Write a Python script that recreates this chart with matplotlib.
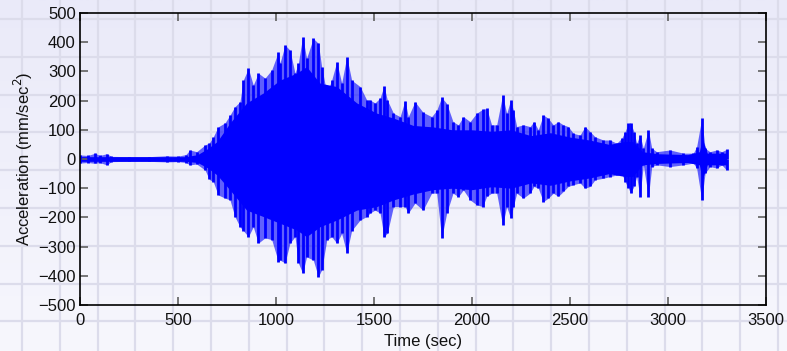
import numpy as np
import matplotlib
matplotlib.use("Agg")
import matplotlib.pyplot as plt
from matplotlib.colors import LinearSegmentedColormap

plt.rcParams['font.family'] = ['Liberation Sans', 'DejaVu Sans']

# ---- data ----
# peak excursions (spikes) of the acceleration trace
time_sec = [0, 40, 77, 100, 136, 160, 250, 350, 442, 500, 540, 561, 595, 638, 660,
            680, 705, 740, 765, 790, 816, 833, 859, 884, 910, 944, 978, 1012, 1020,
            1046, 1071, 1097, 1114, 1136, 1156, 1190, 1216, 1233, 1259, 1284, 1310,
            1335, 1361, 1386, 1429, 1463, 1480, 1505, 1531, 1551, 1568, 1599, 1633,
            1658, 1675, 1709, 1750, 1794, 1820, 1845, 1871, 1903, 1930, 1956, 1990,
            2024, 2054, 2075, 2100, 2126, 2156, 2177, 2197, 2211, 2228, 2262, 2296,
            2316, 2338, 2364, 2389, 2415, 2440, 2466, 2491, 2517, 2551, 2577, 2602,
            2628, 2670, 2704, 2738, 2764, 2781, 2798, 2809, 2826, 2840, 2857, 2874,
            2900, 2917, 2942, 3010, 3078, 3129, 3146, 3172, 3189, 3214, 3248, 3274,
            3299]
upper_env = [14, 12, 20, 12, 18, 9, 8, 8, 11, 10, 15, 31, 25, 48, 55,
             76, 110, 124, 150, 179, 196, 270, 310, 253, 294, 277, 305, 367, 328,
             390, 373, 294, 328, 419, 345, 413, 396, 316, 225, 270, 333,
             260, 350, 270, 248, 202, 202, 192, 209, 250, 202, 157, 145,
             200, 145, 196, 160, 145, 167, 211, 190, 128, 117, 145, 128,
             157, 170, 173, 117, 117, 219, 156, 202, 167, 111, 117, 111,
             128, 100, 151, 139, 117, 128, 117, 111, 88, 82, 111, 94,
             76, 65, 65, 54, 71, 94, 122, 124, 94, 54, 82, 37,
             99, 37, 25, 31, 20, 20, 42, 139, 37, 25, 31, 25,
             33]
lower_env = [-14, -12, -15, -12, -20, -9, -8, -8, -10, -9, -12, -20, -17, -38, -70,
             -78, -123, -134, -140, -197, -232, -245, -266, -232, -288, -270, -276, -352, -346,
             -356, -288, -266, -356, -391, -335, -346, -403, -380, -277, -266, -288,
             -255, -322, -245, -209, -197, -185, -175, -185, -266, -254, -163, -163,
             -163, -185, -151, -175, -117, -117, -271, -185, -117, -129, -106, -140,
             -157, -163, -128, -117, -117, -226, -163, -203, -163, -117, -134, -117,
             -94, -100, -146, -134, -117, -128, -111, -94, -88, -82, -100, -94,
             -71, -66, -60, -55, -49, -78, -100, -117, -94, -60, -129, -20,
             -129, -26, -20, -26, -20, -14, -31, -140, -49, -26, -31, -20,
             -38]

# solid body of the trace (where the oscillation fills in completely)
body_time = [0, 540, 600, 650, 700, 765, 850, 935, 1020, 1105, 1156, 1224, 1310,
             1412, 1514, 1600, 1700, 1800, 1900, 2000, 2100, 2200, 2300, 2400,
             2500, 2600, 2700, 2780, 2820, 2870, 2950, 3100, 3160, 3175, 3200, 3300]
body_upper = [8, 8, 15, 35, 60, 123, 192, 226, 270, 294, 316, 260, 248,
              192, 157, 140, 115, 110, 100, 100, 95, 100, 80, 90,
              75, 65, 50, 60, 60, 25, 18, 15, 25, 70, 20, 20]
body_lower = [-8, -8, -12, -30, -55, -106, -175, -197, -220, -243, -266, -232, -209,
              -175, -163, -140, -120, -105, -100, -105, -95, -100, -82, -90,
              -75, -65, -50, -60, -60, -20, -15, -12, -20, -70, -20, -20]

xticks = [0, 500, 1000, 1500, 2000, 2500, 3000, 3500]
yticks = [-500, -400, -300, -200, -100, 0, 100, 200, 300, 400, 500]

W, H = 787, 351
fig = plt.figure(figsize=(W / 100, H / 100), dpi=100)

# ---- background: soft lavender gradient with a square grid ----
bg = fig.add_axes([0, 0, 1, 1], zorder=-5)
grad = np.linspace(0, 1, 256).reshape(-1, 1)
cmap = LinearSegmentedColormap.from_list('bg', ['#EAEAF9', '#F7F7FD'])
bg.imshow(grad, aspect='auto', cmap=cmap, extent=[0, W, H, 0])
for gx in np.arange(22, W, 37.8):
    bg.axvline(gx, color='#DCDCEB', lw=1.6)
for gy in np.arange(19, H, 37.8):
    bg.axhline(gy, color='#DCDCEB', lw=1.6)
bg.set_xlim(0, W)
bg.set_ylim(H, 0)
bg.axis('off')

# ---- main axes ----
ax = fig.add_axes([80 / W, 1 - 305 / H, (766 - 80) / W, (305 - 13) / H])
ax.patch.set_alpha(0)

blue = '#0000FF'
# dense, partly filled zone between the body and the peaks
ax.fill_between(time_sec, lower_env, upper_env, color=blue, lw=0, alpha=0.6)
# fully filled body
ax.fill_between(body_time, body_lower, body_upper, color=blue, lw=0)
# individual spikes
ax.vlines(time_sec, 0, upper_env, color=blue, lw=2.0)
ax.vlines(time_sec, lower_env, 0, color=blue, lw=2.0)

ax.set_xlim(0, 3500)
ax.set_ylim(-500, 500)
ax.set_xticks(xticks)
ax.set_yticks(yticks)
ax.set_yticklabels([str(v).replace('-', '\u2212') for v in yticks])
ax.tick_params(direction='in', length=6, width=1.2, color='#606060',
               top=True, right=True, labelsize=12, labelcolor='#111111')
ax.tick_params(axis='x', pad=6)
ax.tick_params(axis='y', pad=3)
for s in ax.spines.values():
    s.set_linewidth(1.2)
    s.set_color('#000000')

ax.set_xlabel('Time (sec)', fontsize=12, labelpad=4, color='#111111')
ax.set_ylabel('Acceleration (mm/sec$^2$)', fontsize=12, labelpad=2, color='#111111')

fig.savefig('out.png', dpi=100)
